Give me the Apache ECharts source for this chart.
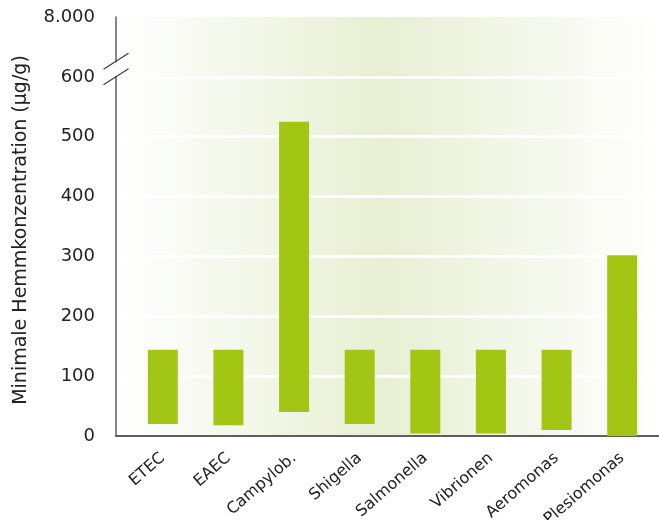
<!DOCTYPE html>
<html><head><meta charset="utf-8">
<script src="https://cdn.jsdelivr.net/npm/echarts@6/dist/echarts.min.js"></script>
<style>html,body{margin:0;padding:0;background:#fff}#c{width:659px;height:520px}</style>
</head><body><div id="c"></div>
<script>
const categories = ['ETEC','EAEC','Campylob.','Shigella','Salmonella','Vibrionen','Aeromonas','Plesiomonas'];
const lowValues  = [20, 18, 40, 20, 4, 4, 10, 0];
const highValues = [144, 144, 525, 144, 144, 144, 144, 302];
const yTickValues = [0, 100, 200, 300, 400, 500, 600, 700];
const yTickLabels = ['0', '100', '200', '300', '400', '500', '600', '8.000'];
const yTitle = 'Minimale Hemmkonzentration (µg/g)';

const FONT = 'DejaVu Sans';
const chart = echarts.init(document.getElementById('c'), null, {renderer: 'canvas'});
const gridTop = 17, gridBottom = 84;
const yMin = yTickValues[0], yMax = yTickValues[yTickValues.length - 1];

chart.setOption({
  animation: false,
  backgroundColor: '#ffffff',
  grid: [
    {left: 116, right: 0, top: gridTop, bottom: gridBottom, show: true, borderWidth: 0, outerBoundsMode: 'none', containLabel: false,
     backgroundColor: new echarts.graphic.LinearGradient(0, 0, 1, 0, [
       {offset: 0, color: '#ffffff'},
       {offset: 0.49, color: '#e8efd3'},
       {offset: 1, color: '#ffffff'}
     ])},
    {left: 130, right: 4, top: gridTop, bottom: gridBottom, outerBoundsMode: 'none', containLabel: false}
  ],
  xAxis: [
    {gridIndex: 0, type: 'category', data: categories, axisLabel: {show: false}, axisTick: {show: false},
     axisLine: {show: true, lineStyle: {color: '#5e5e5e', width: 2}}, splitLine: {show: false}},
    {gridIndex: 1, type: 'category', data: categories, axisTick: {show: false}, axisLine: {show: false},
     axisLabel: {rotate: 41, margin: 20, fontFamily: FONT, fontSize: 16, color: '#222', interval: 0}}
  ],
  yAxis: [
    {gridIndex: 0, type: 'value', min: yMin, max: yMax, interval: 100,
     name: yTitle, nameLocation: 'middle', nameGap: 85,
     nameTextStyle: {fontFamily: FONT, fontSize: 19, color: '#222', padding: [0, 7, 0, 0]},
     axisLine: {show: true, lineStyle: {color: '#5e5e5e', width: 1.5}},
     axisTick: {show: false},
     axisLabel: {margin: 21, fontFamily: FONT, fontSize: 18, color: '#222',
       formatter: v => { const i = yTickValues.indexOf(v); return i >= 0 ? yTickLabels[i] : ''; }},
     splitLine: {show: true, showMinLine: false, showMaxLine: false, lineStyle: {color: '#ffffff', width: 3}}},
    {gridIndex: 1, type: 'value', min: yMin, max: yMax, interval: 100, show: false, splitLine: {show: false}}
  ],
  series: [{
    type: 'custom', xAxisIndex: 1, yAxisIndex: 1,
    data: categories.map((c, i) => [i, lowValues[i], highValues[i]]),
    encode: {x: 0, y: [1, 2]},
    renderItem: function (params, api) {
      const x = api.value(0);
      const top = api.coord([x, api.value(2)]);
      const bot = api.coord([x, api.value(1)]);
      const w = api.size([1, 0])[0] * 0.457;
      return {type: 'rect', shape: {x: top[0] - w / 2, y: top[1], width: w, height: bot[1] - top[1]},
              style: {fill: '#a3c614'}};
    }
  }]
});

// axis break marks between 600 and the top label
const yLow = chart.convertToPixel({yAxisIndex: 0}, 600);
const yHigh = chart.convertToPixel({yAxisIndex: 0}, 626);
const axX = 116;
chart.setOption({
  graphic: [
    {type: 'line', shape: {x1: axX, y1: yHigh + 1, x2: axX, y2: yLow - 1}, style: {stroke: '#ffffff', lineWidth: 4}, z: 100},
    {type: 'line', shape: {x1: axX - 12.5, y1: yHigh + 8, x2: axX + 12.5, y2: yHigh - 8}, style: {stroke: '#3a3a3a', lineWidth: 1.2}, z: 101},
    {type: 'line', shape: {x1: axX - 12.5, y1: yLow + 8, x2: axX + 12.5, y2: yLow - 8}, style: {stroke: '#3a3a3a', lineWidth: 1.2}, z: 101}
  ]
});
</script></body></html>
